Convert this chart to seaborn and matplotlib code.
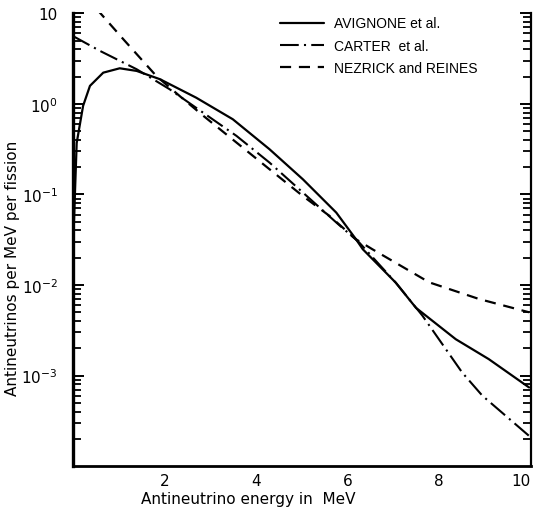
import numpy as np
import pandas as pd
import seaborn as sns
import matplotlib.pyplot as plt
from matplotlib.ticker import LogLocator, NullFormatter, FixedLocator

# Data
avignone_e = [0.0, 0.01, 0.08, 0.22, 0.37, 0.66, 1.02, 1.39, 1.90, 2.69, 3.49, 4.29,
              5.02, 5.75, 6.18, 6.33, 7.05, 7.49, 8.36, 9.08, 9.96]
avignone_n = [0.012, 0.035, 0.37, 0.95, 1.58, 2.21, 2.47, 2.31, 1.87, 1.17, 0.676, 0.316,
              0.147, 0.063, 0.032, 0.0248, 0.0106, 0.0056, 0.00252, 0.00152, 0.00074]

carter_e = [0.0, 0.59, 1.39, 2.11, 2.84, 3.57, 4.29, 5.02, 5.75, 6.25, 7.05, 7.63,
            8.5, 8.94, 9.45, 9.96]
carter_n = [5.6, 3.84, 2.41, 1.45, 0.80, 0.443, 0.225, 0.105, 0.049, 0.0295, 0.0106,
            0.0046, 0.00108, 0.0006, 0.00036, 0.000216]

nezrick_e = [0.52, 1.10, 1.82, 2.33, 2.85, 3.57, 4.29, 5.02, 5.6, 6.18, 6.54, 7.78,
             8.87, 9.96]
nezrick_n = [11.1, 5.16, 2.03, 1.22, 0.735, 0.374, 0.19, 0.096, 0.058, 0.032, 0.0248,
             0.0107, 0.007, 0.005]

labels = ['AVIGNONE et al.', 'CARTER  et al.', 'NEZRICK and REINES']

ytick_vals = [1e-3, 1e-2, 1e-1, 1e0, 1e1]
ytick_text = [r'$\mathregular{10^{-3}}$', r'$\mathregular{10^{-2}}$',
              r'$\mathregular{10^{-1}}$', r'$\mathregular{10^{0}}$', '10']
xtick_vals = [2, 4, 6, 8, 10]

sns.set_style('white')
plt.rcParams['font.family'] = ['DejaVu Sans']
plt.rcParams['mathtext.fontset'] = 'dejavusans'
for k in ['text.color', 'axes.labelcolor', 'xtick.color', 'ytick.color']:
    plt.rcParams[k] = 'black'

fig = plt.figure(figsize=(5.33, 5.10), dpi=100)
ax = fig.add_axes([0.137, 0.084, 0.859, 0.888])

df_a = pd.DataFrame({'E': avignone_e, 'N': avignone_n})
df_c = pd.DataFrame({'E': carter_e, 'N': carter_n})
df_n = pd.DataFrame({'E': nezrick_e, 'N': nezrick_n})

sns.lineplot(data=df_a, x='E', y='N', ax=ax, color='black', lw=1.6,
             sort=False, label=labels[0])
sns.lineplot(data=df_c, x='E', y='N', ax=ax, color='black', lw=1.5,
             sort=False, label=labels[1])
ax.lines[-1].set_dashes([9, 2.5, 1, 2.5])
sns.lineplot(data=df_n, x='E', y='N', ax=ax, color='black', lw=1.6,
             sort=False, label=labels[2])
ax.lines[-1].set_dashes([5, 3.5])

ax.set_yscale('log')
ax.set_xlim(0, 10)
ax.set_ylim(1e-4, 1e1)

# spines: thick left and bottom, thin right, no top
ax.spines['top'].set_visible(False)
ax.spines['left'].set_linewidth(2.4)
ax.spines['bottom'].set_linewidth(2.0)
ax.spines['right'].set_linewidth(1.6)
for s in ['left', 'bottom', 'right']:
    ax.spines[s].set_color('black')

ax.xaxis.set_major_locator(FixedLocator(range(1, 11)))
ax.set_xticklabels(['' if v not in xtick_vals else str(v) for v in range(1, 11)])
ax.yaxis.set_major_locator(FixedLocator(ytick_vals))
ax.set_yticklabels(ytick_text)
ax.yaxis.set_minor_locator(LogLocator(base=10, subs=range(2, 10), numticks=20))
ax.yaxis.set_minor_formatter(NullFormatter())

ax.tick_params(axis='x', which='major', direction='in', length=6, width=1.6,
               pad=5, labelsize=11)
ax.tick_params(axis='y', which='major', direction='in', length=8, width=1.4,
               pad=11, labelsize=11, right=True, left=True)
ax.tick_params(axis='y', which='minor', direction='in', length=6, width=1.3,
               right=True, left=True)

# last x label sits at the figure edge: right-align it so it stays inside
ax.get_xticklabels()[-1].set_horizontalalignment('right')

ax.set_xlabel('Antineutrino energy in  MeV', fontsize=11, labelpad=1)
ax.xaxis.set_label_coords(0.382, -0.055)
ax.set_ylabel('Antineutrinos per MeV per fission', fontsize=11)
ax.yaxis.set_label_coords(-0.115, 0.44)

leg = ax.legend(loc='upper left', bbox_to_anchor=(0.452, 0.993), frameon=False,
                prop={'family': 'Liberation Sans', 'size': 10},
                handlelength=3.2, handletextpad=0.7,
                labelspacing=0.6, borderpad=0, borderaxespad=0)

fig.savefig('out.png', dpi=100)
